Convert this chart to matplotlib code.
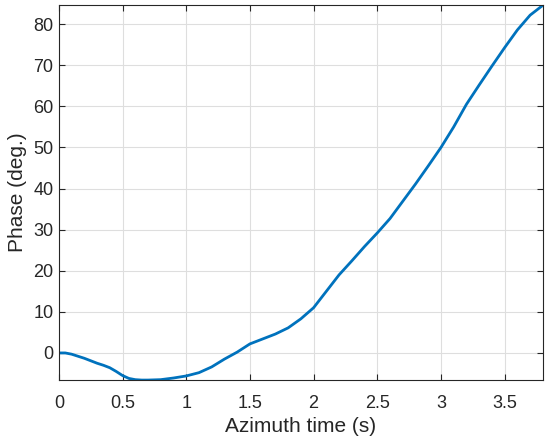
import matplotlib.pyplot as plt
import numpy as np

# azimuth time (s) and phase (deg.)
t = [0.0, 0.05, 0.1, 0.15, 0.2, 0.25, 0.3, 0.35, 0.4, 0.45, 0.5, 0.55, 0.6, 0.65,
     0.7, 0.8, 0.9, 1.0, 1.1, 1.2, 1.3, 1.4, 1.5, 1.6, 1.7, 1.8, 1.9, 2.0,
     2.1, 2.2, 2.3, 2.4, 2.5, 2.6, 2.7, 2.8, 2.9, 3.0, 3.1, 3.2, 3.3, 3.4,
     3.5, 3.6, 3.7, 3.8]
phase = [0.0, 0.0, -0.3, -0.8, -1.3, -1.9, -2.5, -3.0, -3.6, -4.5, -5.5, -6.2, -6.5, -6.6,
         -6.6, -6.5, -6.1, -5.6, -4.8, -3.4, -1.5, 0.2, 2.2, 3.4, 4.6, 6.1, 8.3, 11.0,
         15.0, 19.0, 22.4, 25.9, 29.2, 32.7, 36.9, 41.1, 45.5, 50.0, 55.0, 60.5, 65.2, 69.8,
         74.3, 78.6, 82.2, 84.6]

plt.rcParams['font.family'] = ['Liberation Sans', 'DejaVu Sans']

fig = plt.figure(figsize=(5.5, 4.44), dpi=100)
ax = fig.add_axes([0.107, 0.144, 0.880, 0.845])

ax.plot(t, phase, color='#0072BD', linewidth=2.0)

ax.set_xlim(0, 3.8)
ax.set_ylim(-6.6, 84.7)
ax.set_xticks(np.arange(0, 3.6, 0.5))
ax.set_xticklabels(['0', '0.5', '1', '1.5', '2', '2.5', '3', '3.5'])
ax.set_yticks(np.arange(0, 81, 10))

ax.grid(True, color='#dedede', linewidth=0.8)
ax.set_axisbelow(True)
ax.tick_params(direction='in', top=True, right=True, length=4, labelsize=13,
               colors='#262626', width=0.8)
ax.tick_params(axis='x', pad=11)
ax.tick_params(axis='y', pad=4)
for s in ax.spines.values():
    s.set_color('#262626')
    s.set_linewidth(0.8)

ax.set_xlabel('Azimuth time (s)', fontsize=15, color='#262626', labelpad=3)
ax.set_ylabel('Phase (deg.)', fontsize=15, color='#262626', labelpad=4)

fig.savefig('out.png', dpi=100)
